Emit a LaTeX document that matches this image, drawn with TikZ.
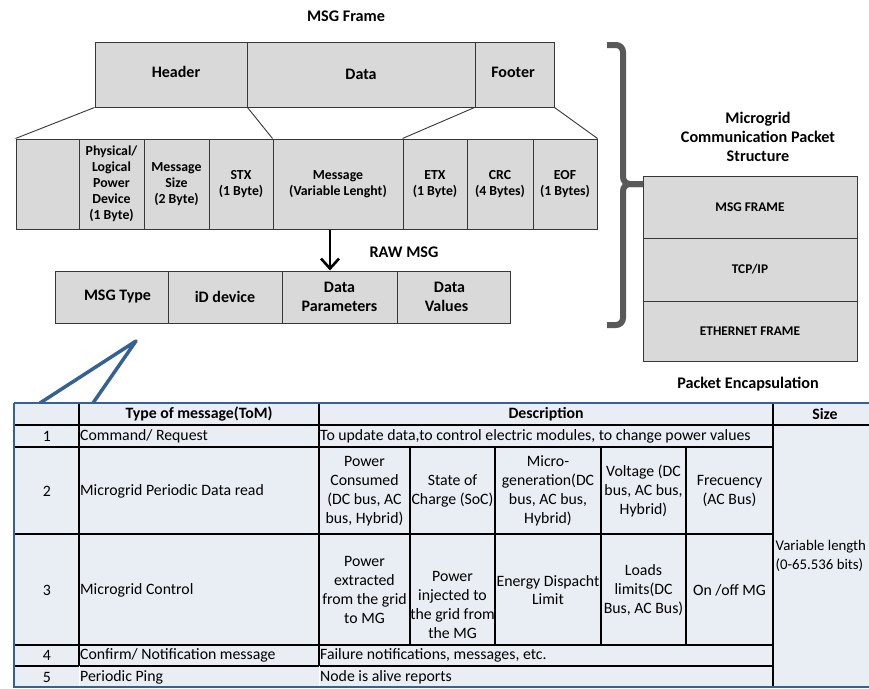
\documentclass[tikz,border=0pt]{standalone}
\usepackage{fontspec}
\setmainfont{Carlito}
\usetikzlibrary{arrows.meta}
\definecolor{boxgray}{RGB}{217,217,217}
\definecolor{edgegray}{RGB}{55,55,55}
\definecolor{bracegray}{RGB}{89,89,89}
\definecolor{tabfill}{RGB}{233,237,244}
\definecolor{tabblue}{RGB}{52,97,150}
\begin{document}
\begin{tikzpicture}[x=1pt,y=-1pt,
  box/.style={draw=edgegray, line width=1pt, fill=boxgray, inner sep=0pt, align=center, font={\fontsize{13.8}{16}\selectfont\bfseries}},
  bigbox/.style={box, font={\fontsize{16}{18.7}\selectfont\bfseries}},
  stackbox/.style={box, font={\fontsize{13.3}{15}\selectfont\bfseries}},
  title/.style={inner sep=0pt, align=center, font={\fontsize{16.2}{19}\selectfont\bfseries}},
  thinline/.style={draw=edgegray, line width=0.9pt},
  arr/.style={line width=2.6pt, -{Straight Barb[length=10pt,width=18pt]}},
  bracestyle/.style={draw=bracegray, line width=6pt, rounded corners=7pt},
  blueline/.style={draw=tabblue, line width=3.5pt, line join=round},
  tcell/.style={inner sep=0pt, align=center, font={\fontsize{15.8}{18.8}\selectfont}},
  thead/.style={tcell, font={\fontsize{15.8}{18.8}\selectfont\bfseries}},
  tleft/.style={tcell, anchor=west, align=left, xshift=1pt},
  tline/.style={draw=black, line width=1.3pt},
  tborder/.style={draw=tabblue, line width=2.5pt}
]
\clip (0,0) rectangle (869,688);
\fill[white] (0,0) rectangle (869,688);

% ---------- MSG Frame ----------
\node[title] (msgtitle) at (346,16) {MSG Frame};
\node[bigbox, minimum width=152pt, minimum height=65pt] (hdr) at (171,74.5) {};
\node[bigbox, minimum width=228pt, minimum height=65pt] (data) at (361,74.5) {};
\node[bigbox, minimum width=79pt, minimum height=65pt] (ftr) at (514.5,74.5) {};
\node[title, font={\fontsize{16}{18.7}\selectfont\bfseries}] (hdrlab) at (176,72) {Header};
\node[title, font={\fontsize{16}{18.7}\selectfont\bfseries}] (datalab) at (361,74) {Data};
\node[title, font={\fontsize{16}{18.7}\selectfont\bfseries}] (ftrlab) at (513,72) {Footer};

\node[box, minimum width=63pt, minimum height=90pt] (b0) at (47.5,184) {};
\node[box, minimum width=65pt, minimum height=90pt] (phys) at (111.5,184) {Physical/\\Logical\\Power\\Device\\(1 Byte)};
\node[box, minimum width=65pt, minimum height=90pt] (msize) at (176.5,184) {Message\\Size\\(2 Byte)};
\node[box, minimum width=64pt, minimum height=90pt] (stx) at (241,184) {STX\\(1 Byte)};
\node[box, minimum width=130pt, minimum height=90pt] (msg) at (338,184) {Message\\(Variable Lenght)};
\node[box, minimum width=64pt, minimum height=90pt] (etx) at (435,184) {ETX\\(1 Byte)};
\node[box, minimum width=66pt, minimum height=90pt] (crc) at (500,184) {CRC\\(4 Bytes)};
\node[box, minimum width=64pt, minimum height=90pt] (eof) at (565,184) {EOF\\(1 Bytes)};

\draw[thinline] (hdr.south west) -- (b0.north west);
\draw[thinline] (hdr.south east) -- (msg.north west);
\draw[thinline] (ftr.south west) -- (etx.north west);
\draw[thinline] (ftr.south east) -- (eof.north east);

% ---------- RAW MSG ----------
\node[title] (rawtitle) at (404,252) {RAW MSG};
\node[bigbox, minimum width=113pt, minimum height=52pt] (mtype) at (111.5,297) {\hspace*{12pt}MSG Type};
\node[bigbox, minimum width=114pt, minimum height=52pt] (idd) at (225,297) {iD device};
\node[bigbox, minimum width=115pt, minimum height=52pt] (dpar) at (339.5,297) {Data\\Parameters};
\node[bigbox, minimum width=113pt, minimum height=52pt] (dval) at (453.5,297) {Data\hspace*{8pt}\\Values\hspace*{14pt}};
\draw[arr] ([xshift=-8pt]msg.south) -- ([xshift=-9.5pt]dpar.north);

% ---------- Packet stack ----------
\node[title] (mctitle) at (758,137) {Microgrid\\Communication Packet\\Structure};
\node[stackbox, minimum width=214pt, minimum height=62pt] (sframe) at (750,207) {MSG FRAME};
\node[stackbox, minimum width=214pt, minimum height=63pt] (stcp) at (750,269.5) {TCP/IP};
\node[stackbox, minimum width=214pt, minimum height=60pt] (seth) at (750,331) {ETHERNET FRAME};
\node[title] (enctitle) at (748,384) {Packet Encapsulation};

\draw[bracestyle] (607,45) -- (623,45) -- (623,184) -- (643,184);
\draw[bracestyle] (643,184) -- (623,184) -- (623,325) -- (607,325);

% ---------- Pointer lines ----------
\coordinate (apex) at (136,341);
\coordinate (pl) at (40,403);
\coordinate (pr) at (93,403);
\draw[blueline] (pl) -- (apex) -- (pr);

% ---------- Table ----------
\fill[tabfill] (14,403) rectangle (880,688);
\foreach \yy in {447,534,645,666} \draw[tline] (14,\yy) -- (773,\yy);
\draw[tline] (14,425) -- (880,425);
\draw[tline] (79,403) -- (79,666);
\draw[tline] (319,403) -- (319,666);
\draw[draw=white, line width=1pt] (79,666) -- (79,688);
\draw[draw=white, line width=1pt] (319,666) -- (319,688);
\draw[tline] (773,403) -- (773,688);
\foreach \xx in {410,495,601,686} \draw[tline] (\xx,447) -- (\xx,645);
\draw[tborder] (14,403) -- (880,403);
\draw[tborder] (14,403) -- (14,688);
\draw[tborder] (14,687) -- (880,687);

\node[thead] (hTom) at (199,414) {Type of message(ToM)};
\node[thead] (hDesc) at (546,414) {Description};
\node[thead] (hSize) at (825,414) {Size};

\node[tcell] (n1) at (47,436) {1};
\node[tleft] (t1) at (79,436) {Command/ Request};
\node[tleft] (d1) at (319,436) {To update data,to control electric modules, to change power values};

\node[tcell] (n2) at (47,491) {2};
\node[tleft] (t2) at (79,491) {Microgrid Periodic Data read};
\node[tcell] (d2a) at (364.5,491) {Power\\Consumed\\(DC bus, AC\\bus, Hybrid)};
\node[tcell] (d2b) at (452.5,491) {State of\\Charge (SoC)};
\node[tcell] (d2c) at (548,491) {Micro-\\generation(DC\\bus, AC bus,\\Hybrid)};
\node[tcell] (d2d) at (643.5,491) {Voltage (DC\\bus, AC bus,\\Hybrid)};
\node[tcell] (d2e) at (729.5,491) {Frecuency\\(AC Bus)};

\node[tcell] (n3) at (47,590) {3};
\node[tleft] (t3) at (79,590) {Microgrid Control};
\node[tcell] (d3a) at (364.5,590) {Power\\extracted\\from the grid\\to MG};
\node[tcell] (d3b) at (452.5,605) {Power\\injected to\\the grid from\\the MG};
\node[tcell] (d3c) at (548,590) {Energy Dispacht\\Limit};
\node[tcell] (d3d) at (643.5,590) {Loads\\limits(DC\\Bus, AC Bus)};
\node[tcell] (d3e) at (729.5,590) {On /off MG};

\node[tcell] (n4) at (47,655.5) {4};
\node[tleft] (t4) at (79,655.5) {Confirm/ Notification message};
\node[tleft] (d4) at (319,655.5) {Failure notifications, messages, etc.};

\node[tcell] (n5) at (47,677) {5};
\node[tleft] (t5) at (79,677) {Periodic Ping};
\node[tleft] (d5) at (319,677) {Node is alive reports};

\node[tcell, anchor=west, align=left, font={\fontsize{14.8}{18.8}\selectfont}] (sz) at (775.5,556) {Variable length\\(0-65.536 bits)};
\end{tikzpicture}
\end{document}
